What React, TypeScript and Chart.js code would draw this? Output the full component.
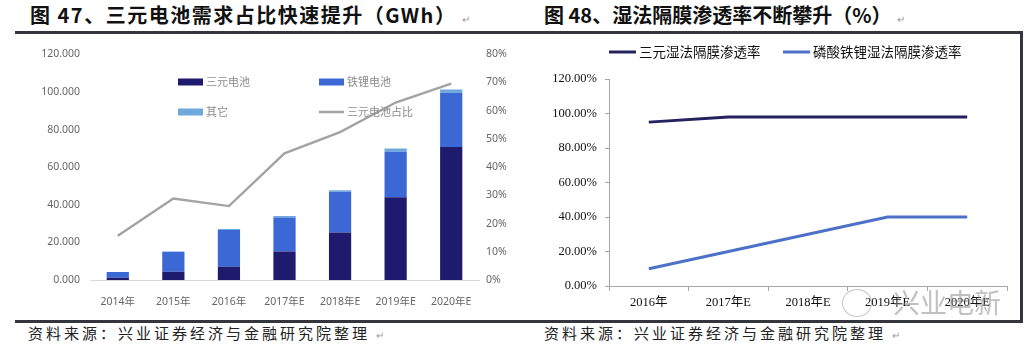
import React, { useEffect, useRef } from "react";
import { Chart, registerables } from "chart.js";
Chart.register(...registerables);

// ---- Figure 47 data (GWh, %) ----
const demandYears = ["2014年", "2015年", "2016年", "2017年E", "2018年E", "2019年E", "2020年E"];
const ternaryGWh = [1.2, 4.4, 7.0, 15.2, 25.3, 44.0, 70.7];
const lfpGWh = [3.0, 10.6, 19.6, 18.0, 21.6, 24.2, 28.8];
const otherGWh = [0.1, 0.2, 0.5, 0.8, 0.8, 1.7, 1.8];
const ternaryShare = [15.7, 28.9, 26.2, 44.9, 52.4, 62.9, 69.6];
const leftTicks = [0, 20, 40, 60, 80, 100, 120];
const rightTicks = [0, 10, 20, 30, 40, 50, 60, 70, 80];

// ---- Figure 48 data (%) ----
const penYears = ["2016年", "2017年E", "2018年E", "2019年E", "2020年E"];
const ternaryWet = [95, 98, 98, 98, 98];
const lfpWet = [10, 20, 30, 40, 40];
const penTicks = [0, 20, 40, 60, 80, 100, 120];

const SANS = "'Noto Sans', 'Noto Sans CJK SC', sans-serif";
const CJK = "'Noto Sans CJK SC', sans-serif";
const SERIF = "'Liberation Serif', 'Noto Sans CJK SC', serif";

type Slot = { index: number; x: number; y: number; kind: "box" | "line" };

function makeLegend(id: string, slots: Slot[], font: string, color: string, sw: number, lw: number) {
  return {
    id,
    afterDraw(chart: any) {
      const ctx = chart.ctx;
      ctx.save();
      ctx.font = font;
      ctx.textBaseline = "middle";
      ctx.textAlign = "left";
      slots.forEach((s) => {
        const ds = chart.data.datasets[s.index];
        if (s.kind === "box") {
          ctx.fillStyle = ds.backgroundColor;
          ctx.fillRect(s.x, s.y - 3.5, sw, 7);
        } else {
          ctx.strokeStyle = ds.borderColor;
          ctx.lineWidth = lw;
          ctx.beginPath();
          ctx.moveTo(s.x, s.y);
          ctx.lineTo(s.x + sw, s.y);
          ctx.stroke();
        }
        ctx.fillStyle = color;
        ctx.fillText(ds.label, s.x + sw + 3, s.y);
      });
      ctx.restore();
    },
  };
}

function DemandChart() {
  const ref = useRef<HTMLCanvasElement>(null);
  useEffect(() => {
    const legend = makeLegend(
      "legend47",
      [
        { index: 0, x: 158, y: 44, kind: "box" },
        { index: 1, x: 299, y: 44, kind: "box" },
        { index: 2, x: 158, y: 74, kind: "box" },
        { index: 3, x: 299, y: 74, kind: "line" },
      ],
      `11px ${CJK}`,
      "#8a8a8a",
      25,
      2.5
    );
    const chart = new Chart(ref.current!, {
      type: "bar",
      data: {
        labels: demandYears,
        datasets: [
          { type: "bar", label: "三元电池", data: ternaryGWh, backgroundColor: "#1e1b6e", yAxisID: "y", order: 1, stack: "s" },
          { type: "bar", label: "铁锂电池", data: lfpGWh, backgroundColor: "#3c68d6", yAxisID: "y", order: 1, stack: "s" },
          { type: "bar", label: "其它", data: otherGWh, backgroundColor: "#6fa8dc", yAxisID: "y", order: 1, stack: "s" },
          {
            type: "line",
            label: "三元电池占比",
            data: ternaryShare,
            borderColor: "#a3a3a3",
            backgroundColor: "#a3a3a3",
            borderWidth: 2.4,
            pointRadius: 0,
            tension: 0,
            yAxisID: "y1",
            order: 0,
          },
        ] as any,
      },
      options: {
        animation: false,
        responsive: false,
        maintainAspectRatio: false,
        layout: { padding: { top: 7, left: 0, right: 0, bottom: 0 } },
        datasets: { bar: { categoryPercentage: 1, barPercentage: 0.4 } },
        plugins: { legend: { display: false }, tooltip: { enabled: false } },
        scales: {
          x: {
            stacked: true,
            offset: true,
            grid: { display: false },
            border: { display: true, color: "#d9d9d9", width: 1 },
            ticks: { color: "#666", font: { family: SANS, size: 10.5 }, padding: 8, maxRotation: 0 },
            afterFit: (s: any) => { s.height = 30; },
          },
          y: {
            stacked: true,
            position: "left",
            min: 0,
            max: 120,
            grid: { display: false, drawTicks: false },
            border: { display: false },
            afterBuildTicks: (s: any) => { s.ticks = leftTicks.map((v) => ({ value: v })); },
            ticks: { color: "#666", font: { family: SANS, size: 10.5 }, padding: 10, callback: (v: any) => Number(v).toFixed(3) },
            afterFit: (s: any) => { s.width = 70; },
          },
          y1: {
            position: "right",
            min: 0,
            max: 80,
            grid: { display: false, drawTicks: false },
            border: { display: false },
            afterBuildTicks: (s: any) => { s.ticks = rightTicks.map((v) => ({ value: v })); },
            ticks: { color: "#666", font: { family: SANS, size: 10.5 }, padding: 7, callback: (v: any) => `${v}%` },
            afterFit: (s: any) => { s.width = 33; },
          },
        },
      } as any,
      plugins: [legend],
    });
    return () => chart.destroy();
  }, []);
  return <canvas ref={ref} width={492} height={272} style={{ position: "absolute", left: 20, top: 38, width: 492, height: 272 }} />;
}

function PenetrationChart() {
  const ref = useRef<HTMLCanvasElement>(null);
  useEffect(() => {
    const legend = makeLegend(
      "legend48",
      [
        { index: 0, x: 89, y: 14, kind: "line" },
        { index: 1, x: 263, y: 14, kind: "line" },
      ],
      `13.5px ${CJK}`,
      "#111",
      27,
      3
    );
    const chart = new Chart(ref.current!, {
      type: "line",
      data: {
        labels: penYears,
        datasets: [
          { label: "三元湿法隔膜渗透率", data: ternaryWet, borderColor: "#24225e", backgroundColor: "#24225e", borderWidth: 3, pointRadius: 0, tension: 0 },
          { label: "磷酸铁锂湿法隔膜渗透率", data: lfpWet, borderColor: "#4d70c8", backgroundColor: "#4d70c8", borderWidth: 3, pointRadius: 0, tension: 0 },
        ],
      },
      options: {
        animation: false,
        responsive: false,
        maintainAspectRatio: false,
        layout: { padding: { top: 41, left: 0, right: 13, bottom: 0 } },
        plugins: { legend: { display: false }, tooltip: { enabled: false } },
        scales: {
          x: {
            offset: true,
            grid: { display: true, offset: true, drawOnChartArea: false, drawTicks: true, tickLength: 5, color: "#a6a6a6" },
            border: { display: true, color: "#a6a6a6", width: 1 },
            ticks: { color: "#111", font: { family: SERIF, size: 12.5 }, padding: 4, maxRotation: 0 },
            afterFit: (s: any) => { s.height = 32; },
          },
          y: {
            min: 0,
            max: 120,
            grid: { display: true, drawOnChartArea: false, drawTicks: true, tickLength: 4, color: "#a6a6a6" },
            border: { display: true, color: "#a6a6a6", width: 1 },
            afterBuildTicks: (s: any) => { s.ticks = penTicks.map((v) => ({ value: v })); },
            ticks: { color: "#111", font: { family: SERIF, size: 12.5 }, padding: 8, callback: (v: any) => `${Number(v).toFixed(2)}%` },
            afterFit: (s: any) => { s.width = 89; },
          },
        },
      } as any,
      plugins: [legend],
    });
    return () => chart.destroy();
  }, []);
  return <canvas ref={ref} width={500} height={280} style={{ position: "absolute", left: 520, top: 38, width: 500, height: 280 }} />;
}

const ruleColor = "#35363d";

export default function App() {
  const titleStyle: React.CSSProperties = {
    position: "absolute",
    top: 3,
    fontFamily: CJK,
    fontWeight: 700,
    fontSize: 20,
    lineHeight: "24px",
    color: "#111",
    whiteSpace: "nowrap",
  };
  const srcStyle: React.CSSProperties = {
    position: "absolute",
    top: 323,
    fontFamily: CJK,
    fontSize: 15,
    lineHeight: "20px",
    letterSpacing: 3,
    color: "#222",
    whiteSpace: "nowrap",
  };
  const mark: React.CSSProperties = { fontSize: 10, color: "#999", fontWeight: 400, marginLeft: 6, letterSpacing: 0 };
  return (
    <div style={{ position: "absolute", left: 0, top: 0, width: 1024, height: 351, background: "#fff", overflow: "hidden" }}>
      <div style={{ ...titleStyle, left: 30, letterSpacing: 1.5 }}>
        图 47、三元电池需求占比快速提升（GWh）<span style={mark}>↵</span>
      </div>
      <div style={{ ...titleStyle, left: 544 }}>
        图 48、湿法隔膜渗透率不断攀升（%）<span style={mark}>↵</span>
      </div>
      <div style={{ position: "absolute", left: 15, top: 31, width: 1008, height: 3, background: ruleColor }} />
      <div style={{ position: "absolute", left: 15, top: 320, width: 1008, height: 3, background: ruleColor }} />
      <div style={{ position: "absolute", left: 1020, top: 31, width: 3, height: 292, background: ruleColor }} />
      <DemandChart />
      <PenetrationChart />
      <div style={{ position: "absolute", left: 842, top: 289, width: 28, height: 26, borderRadius: "50%", border: "1.5px solid rgba(150,150,150,0.55)" }} />
      <div style={{ position: "absolute", left: 893, top: 286, fontFamily: CJK, fontSize: 27, lineHeight: "32px", color: "rgba(140,140,140,0.55)", whiteSpace: "nowrap" }}>
        兴业电新
      </div>
      <div style={{ ...srcStyle, left: 28 }}>
        资料来源：兴业证券经济与金融研究院整理<span style={mark}>↵</span>
      </div>
      <div style={{ ...srcStyle, left: 544 }}>
        资料来源：兴业证券经济与金融研究院整理<span style={mark}>↵</span>
      </div>
    </div>
  );
}
